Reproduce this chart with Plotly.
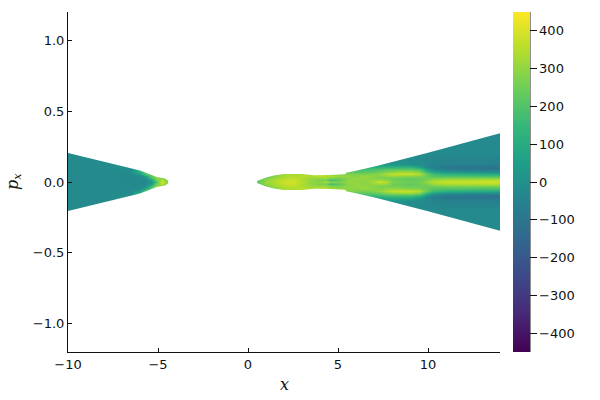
import numpy as np
import plotly.graph_objects as go

# values, only the upper half (p >= 0), the map is symmetric in p
left_x = [-10, -8, -6.5, -6, -5.7, -5.4, -5.1, -4.8, -4.5]
left_p = [0, 0.01, 0.02, 0.03, 0.04, 0.05, 0.06, 0.08, 0.1, 0.15, 0.21]
# one row per x
left_z = [
    [-20, -20, -20, -20, -20, -20, -20, -20, -20, -20, -20],
    [-20, -20, -20, -20, -20, -20, -20, -20, -20, -20, -20],
    [-25, -25, -25, -25, -25, -25, -20, -15, 0, 0, 0],
    [-30, -30, -30, -30, -20, 0, 60, 140, 170, 170, 170],
    [-35, -30, -20, 0, 50, 130, 190, 200, 200, 200, 200],
    [0, 30, 90, 160, 220, 230, 230, 230, 230, 230, 230],
    [190, 210, 270, 300, 270, 250, 250, 250, 250, 250, 250],
    [390, 380, 320, 280, 250, 250, 250, 250, 250, 250, 250],
    [280, 270, 250, 250, 250, 250, 250, 250, 250, 250, 250],
]

right_x = [0.5, 1, 1.5, 2, 2.5, 3, 3.5, 4, 4.3, 4.6, 5, 5.5, 6, 6.5, 7, 7.3, 7.7, 8, 8.5, 9, 9.5, 9.9, 10.3, 11, 12, 13, 14]
right_p = [0, 0.015, 0.03, 0.045, 0.06, 0.075, 0.09, 0.105, 0.13, 0.2, 0.35]
right_z = [
    [220, 220, 220, 220, 220, 220, 220, 220, 220, 220, 220],
    [320, 300, 270, 240, 240, 240, 240, 240, 240, 240, 240],
    [350, 340, 320, 290, 280, 280, 280, 280, 280, 280, 280],
    [380, 370, 350, 330, 320, 320, 320, 320, 320, 320, 320],
    [390, 380, 360, 340, 330, 330, 330, 330, 330, 330, 330],
    [350, 330, 340, 350, 340, 340, 340, 340, 340, 340, 340],
    [290, 300, 310, 340, 330, 330, 330, 330, 330, 330, 330],
    [300, 260, 310, 360, 340, 340, 340, 340, 340, 340, 340],
    [340, 260, 320, 350, 330, 330, 330, 330, 330, 330, 330],
    [290, 170, 280, 340, 300, 300, 300, 300, 300, 300, 300],
    [270, 220, 260, 310, 270, 230, 200, 200, 200, 200, 200],
    [310, 290, 290, 300, 280, 230, 170, 140, 140, 140, 140],
    [300, 300, 310, 280, 270, 220, 160, 110, 90, 90, 90],
    [290, 290, 300, 310, 260, 220, 170, 110, 70, 70, 70],
    [340, 310, 280, 290, 280, 230, 180, 100, 50, 50, 50],
    [380, 320, 270, 280, 300, 250, 190, 110, 30, 20, 20],
    [350, 300, 260, 300, 340, 280, 200, 120, 20, 10, 10],
    [270, 250, 260, 310, 370, 300, 210, 130, 10, 0, 0],
    [250, 240, 250, 300, 380, 320, 210, 130, 5, -10, -10],
    [250, 230, 240, 290, 380, 320, 210, 120, -5, -20, -20],
    [260, 240, 250, 280, 350, 280, 180, 70, -15, -20, -20],
    [310, 270, 250, 240, 240, 160, 60, -20, -30, -20, -20],
    [350, 320, 260, 200, 170, 70, -30, -60, -40, -20, -20],
    [370, 340, 270, 190, 130, 30, -70, -90, -50, -20, -20],
    [380, 340, 270, 190, 120, 10, -80, -100, -50, -20, -20],
    [380, 350, 270, 180, 110, 0, -90, -100, -50, -20, -20],
    [390, 350, 270, 180, 100, -10, -90, -110, -50, -20, -20],
]

# outer edge of the filled region, everything above it stays white
edge_x = [-10, -8, -6, -5.07, -4.6, -4.44, -4.43, 0.49, 0.53, 1, 1.5, 2, 3, 3.7, 4.5, 5.4, 5.45, 6, 7.2, 10, 14]
edge_p = [0.204, 0.143, 0.082, 0.036, 0.025, 0.008, 0, 0, 0.008, 0.032, 0.047, 0.056, 0.056, 0.047, 0.05, 0.055, 0.065, 0.08, 0.115, 0.207, 0.344]

p_top = 1.2
x_ticks = [-10, -5, 0, 5, 10]
p_ticks = [-1.0, -0.5, 0.0, 0.5, 1.0]
bar_ticks = [-400, -300, -200, -100, 0, 100, 200, 300, 400]


def mirrored(p, z):
    # z comes in as one row per x and the heatmap wants one row per p
    zz = np.array(z, dtype=float).T
    full_p = [-v for v in p[::-1]] + p[1:]
    full_z = np.vstack([zz[::-1], zz[1:]])
    return full_p, full_z


font = dict(family="DejaVu Sans", size=13, color="#111111")
title_font = dict(family="DejaVu Serif", size=16, color="#111111")
fig = go.Figure()

lp, lz = mirrored(left_p, left_z)
fig.add_trace(go.Heatmap(x=left_x, y=lp, z=lz, zmin=-450, zmax=450, zsmooth="best",
                         colorscale="Viridis", showscale=False))

rp, rz = mirrored(right_p, right_z)
fig.add_trace(go.Heatmap(x=right_x, y=rp, z=rz, zmin=-450, zmax=450, zsmooth="best",
                         colorscale="Viridis",
                         colorbar=dict(x=1.03, xanchor="left", xpad=0, ypad=0, y=0.5, len=1,
                                       thickness=17, outlinewidth=0, ticks="outside", ticklen=7,
                                       tickwidth=1, tickcolor="#111111", tickvals=bar_ticks,
                                       tickfont=font)))

# white masks on both sides of the edge
fig.add_trace(go.Scatter(x=edge_x + [edge_x[-1], edge_x[0]],
                         y=edge_p + [p_top, p_top],
                         fill="toself", fillcolor="white", mode="none", hoverinfo="skip", showlegend=False))
fig.add_trace(go.Scatter(x=edge_x + [edge_x[-1], edge_x[0]],
                         y=[-v for v in edge_p] + [-p_top, -p_top],
                         fill="toself", fillcolor="white", mode="none", hoverinfo="skip", showlegend=False))

fig.update_layout(
    width=600, height=400,
    margin=dict(l=68, r=100, t=12, b=48, autoexpand=False),
    plot_bgcolor="white", paper_bgcolor="white",
    font=font,
    showlegend=False,
    xaxis=dict(range=[-10, 14], tickvals=x_ticks, ticks="inside", ticklen=4, tickcolor="#111111",
               showgrid=False, zeroline=False, showline=True, linecolor="#111111", linewidth=1,
               automargin=False),
    yaxis=dict(range=[-p_top, p_top], tickvals=p_ticks, tickformat=".1f", ticks="inside", ticklen=4,
               tickcolor="#111111", showgrid=False, zeroline=False, showline=True, linecolor="#111111",
               linewidth=1, automargin=False),
    shapes=[dict(type="line", xref="paper", yref="paper", x0=1.0694, x1=1.0694, y0=0, y1=1,
                 line=dict(color="#111111", width=1))],
    annotations=[
        dict(text="<i>x</i>", xref="paper", yref="paper", x=0.5, y=0, yshift=-32, yanchor="middle",
             xanchor="center", showarrow=False, font=title_font),
        dict(text="<i>p<sub>x</sub></i>", xref="paper", yref="paper", x=0, y=0.5, xshift=-55,
             xanchor="center", yanchor="middle", textangle=-90, showarrow=False, font=title_font),
    ],
)

# the page's default body margin would push the plot 8 px off
fig.write_html("out.html", config={"displayModeBar": False},
               post_script="document.body.style.margin='0';")
